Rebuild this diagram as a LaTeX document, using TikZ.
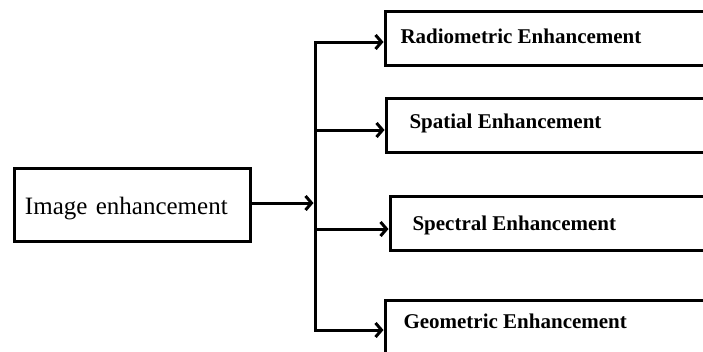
\documentclass[tikz,border=0pt]{standalone}
\usepackage{fontspec}
\setmainfont{Liberation Serif}
\usetikzlibrary{arrows.meta}

\begin{document}
\begin{tikzpicture}[
  x=1bp,
  y=-1bp,
  line width=3bp,
  mainbox/.style={draw, line width=3bp, minimum width=236bp, minimum height=73bp, inner sep=0pt, text width=215bp, align=left, text height=20bp, text depth=2bp, font=\fontsize{25bp}{28bp}\selectfont},
  branch/.style={draw, line width=3bp, minimum width=400bp, minimum height=54bp, inner sep=0pt, anchor=west},
  lab/.style={anchor=base west, inner sep=0pt, font=\bfseries\fontsize{21bp}{24bp}\selectfont},
  arr/.style={-{Straight Barb[length=6bp,width=14bp]}, line width=3bp},
]

% Frame.
\useasboundingbox (0,0) rectangle (703,351);
\clip (0,0) rectangle (703,351);

% Source box.
\node[mainbox] (img) at (132.5,205) {Image enhancement};

% Target boxes (running off the right edge).
\node[branch] (radbox) at (383.5,38.5) {};
\node[branch] (spabox) at (384.5,125.5) {};
\node[branch] (spebox) at (388.5,223.5) {};
\node[branch] (geobox) at (383.5,327) {};

% Box labels.
\node[lab] (rad) at (399,43) {Radiometric Enhancement};
\node[lab] (spa) at (408,128) {Spatial Enhancement};
\node[lab] (spe) at (411,230) {Spectral Enhancement};
\node[lab] (geo) at (402,328) {Geometric Enhancement};

% Bus.
\coordinate (top) at (315,42);
\coordinate (hub) at (315,203);
\coordinate (mid1) at (315,130);
\coordinate (mid2) at (315,229);
\coordinate (bot) at (315,330);
\draw[line cap=rect] (top) -- (bot);

% Connectors.
\draw[arr, shorten >=1.5bp] (img.east |- hub) -- (hub);
\draw[arr] (top) -- (radbox.west |- top);
\draw[arr] (mid1) -- (spabox.west |- mid1);
\draw[arr] (mid2) -- (spebox.west |- mid2);
\draw[arr] (bot) -- (geobox.west |- bot);

\end{tikzpicture}
\end{document}
